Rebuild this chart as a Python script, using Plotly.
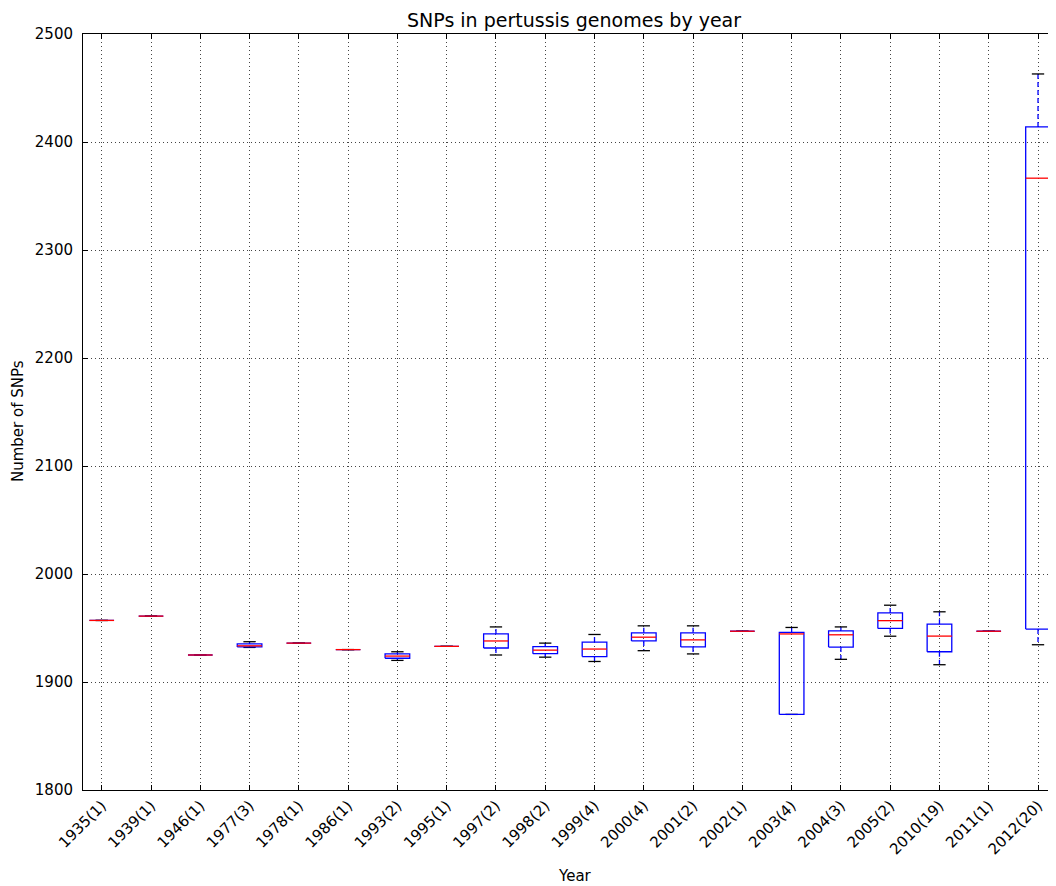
import plotly.graph_objects as go

labels = ["1935(1)", "1939(1)", "1946(1)", "1977(3)", "1978(1)", "1986(1)", "1993(2)",
          "1995(1)", "1997(2)", "1998(2)", "1999(4)", "2000(4)", "2001(2)", "2002(1)",
          "2003(4)", "2004(3)", "2005(2)", "2010(19)", "2011(1)", "2012(20)"]
lo = [1957, 1961, 1925, 1932, 1936, 1930, 1920, 1933, 1925, 1923, 1919, 1929, 1926,
      1947, 1870, 1921, 1942.4, 1916, 1947, 1934.5]
q1 = [1957, 1961, 1925, 1932.5, 1936, 1930, 1922, 1933, 1931.5, 1926.25, 1923.5, 1938,
      1932.5, 1947, 1870, 1932.3, 1949.6, 1928, 1947, 1949]
med = [1957, 1961, 1925, 1933.5, 1936, 1930, 1924, 1933, 1938, 1929.5, 1930.5, 1941.5,
       1939, 1947, 1944.5, 1943.7, 1956.8, 1942.5, 1947, 2366.5]
q3 = [1957, 1961, 1925, 1935.3, 1936, 1930, 1926, 1933, 1944.5, 1932.75, 1937, 1945.5,
      1945.5, 1947, 1946, 1947.4, 1964, 1953.5, 1947, 2414]
hi = [1957, 1961, 1925, 1937.3, 1936, 1930, 1928, 1933, 1951, 1936, 1944, 1952, 1952,
      1947, 1950.5, 1951, 1971.1, 1965, 1947, 2463]

BW = 0.25   # half box width (axis units)
CW = 0.125  # half cap width

bx, by, wx, wy, cx, cy, mx, my = [], [], [], [], [], [], [], []
for i in range(len(labels)):
    bx += [i - BW, i + BW, i + BW, i - BW, i - BW, None]
    by += [q1[i], q1[i], q3[i], q3[i], q1[i], None]
    wx += [i, i, None, i, i, None]
    wy += [q3[i], hi[i], None, q1[i], lo[i], None]
    cx += [i - CW, i + CW, None, i - CW, i + CW, None]
    cy += [hi[i], hi[i], None, lo[i], lo[i], None]
    mx += [i - BW, i + BW, None]
    my += [med[i], med[i], None]

fig = go.Figure()
fig.add_trace(go.Scatter(x=wx, y=wy, mode="lines", line=dict(color="#0000ff", width=1.3, dash="5px,3px"),
                         hoverinfo="skip", showlegend=False))
fig.add_trace(go.Scatter(x=cx, y=cy, mode="lines", line=dict(color="black", width=1.3),
                         hoverinfo="skip", showlegend=False))
fig.add_trace(go.Scatter(x=bx, y=by, mode="lines", line=dict(color="#0000ff", width=1.3),
                         hoverinfo="skip", showlegend=False))
fig.add_trace(go.Scatter(x=mx, y=my, mode="lines", line=dict(color="#ff0000", width=1.3),
                         hoverinfo="skip", showlegend=False))

font = "DejaVu Sans"
# page body has an 8px margin; figure is sized/offset to compensate
fig.update_layout(
    width=1048, height=878,
    margin=dict(l=75, r=0, t=26, b=96),
    plot_bgcolor="white", paper_bgcolor="white",
    font=dict(family=font, size=15, color="black"),
    showlegend=False,
    xaxis=dict(
        range=[-0.38, len(labels) - 0.635],
        tickvals=list(range(len(labels))), ticktext=labels,
        tickangle=-45, ticks="inside", ticklen=5, tickcolor="black",
        showline=True, linecolor="black", linewidth=1, mirror="allticks",
        showgrid=True, gridcolor="#444", griddash="1px,3px", gridwidth=1,
        zeroline=False, tickfont=dict(size=15),
    ),
    yaxis=dict(
        range=[1800, 2500], dtick=100, tick0=1800,
        ticks="inside", ticklen=5, tickcolor="black",
        showline=True, linecolor="black", linewidth=1, mirror="allticks",
        showgrid=True, gridcolor="#444", griddash="1px,3px", gridwidth=1,
        zeroline=False, tickfont=dict(size=15), ticklabelstandoff=6,
    ),
    annotations=[
        dict(text="SNPs in pertussis genomes by year", xref="paper", yref="paper",
             x=0.505, y=1.0185, xanchor="center", yanchor="middle", showarrow=False,
             font=dict(size=19, family=font)),
        dict(text="Year", xref="paper", yref="paper", x=0.5057, y=-0.1138,
             xanchor="center", yanchor="middle", showarrow=False, font=dict(size=15, family=font)),
        dict(text="Number of SNPs", xref="paper", yref="paper", x=-0.0668, y=0.488,
             xanchor="center", yanchor="middle", textangle=-90, showarrow=False,
             font=dict(size=15, family=font)),
    ],
)

fig.write_html("out.html")
